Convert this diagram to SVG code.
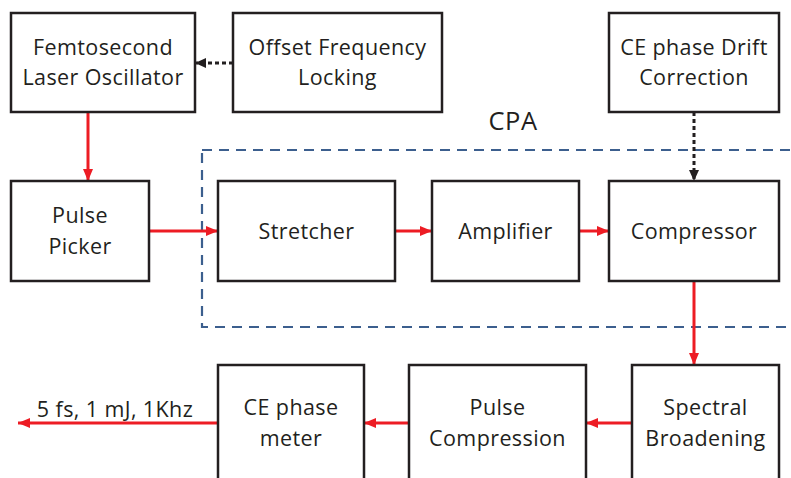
<svg xmlns="http://www.w3.org/2000/svg" width="791" height="478" viewBox="0 0 791 478">
<defs>
<style>
.box{fill:#fff;stroke:#231f20;stroke-width:2.5}
.t{font-family:"Open Sans","Noto Sans",sans-serif;font-size:21.5px;letter-spacing:0.4px;fill:#231f20;text-anchor:middle}
.red{stroke:#ed1c24;stroke-width:3;fill:none}
.dot{stroke:#231f20;stroke-width:3;fill:none;stroke-dasharray:4 3}
</style>
<marker id="ar" viewBox="0 0 12 10" refX="12" refY="5" markerWidth="12" markerHeight="10" markerUnits="userSpaceOnUse" orient="auto"><path d="M0,0L12,5L0,10z" fill="#ed1c24"/></marker>
<marker id="ab" viewBox="0 0 11 10" refX="11" refY="5" markerWidth="11" markerHeight="10" markerUnits="userSpaceOnUse" orient="auto"><path d="M0,0L11,5L0,10z" fill="#231f20"/></marker>
</defs>
<rect width="791" height="478" fill="#fff"/>
<g id="cpa">
<rect x="202" y="150" width="620" height="177" fill="none" stroke="#3c5f8e" stroke-width="2.2" stroke-dasharray="10 7"/>
<text class="t" x="513" y="130" style="font-size:25.5px;letter-spacing:0.5px">CPA</text>
</g>
<g id="connectors">
<line class="red" x1="88" y1="112" x2="88" y2="181" marker-end="url(#ar)"/>
<line class="red" x1="149" y1="231" x2="218" y2="231" marker-end="url(#ar)"/>
<line class="red" x1="395" y1="231" x2="432" y2="231" marker-end="url(#ar)"/>
<line class="red" x1="579" y1="231" x2="609" y2="231" marker-end="url(#ar)"/>
<line class="red" x1="694" y1="281" x2="694" y2="365" marker-end="url(#ar)"/>
<line class="red" x1="632" y1="423" x2="586" y2="423" marker-end="url(#ar)"/>
<line class="red" x1="409" y1="423" x2="364" y2="423" marker-end="url(#ar)"/>
<line class="red" x1="218" y1="423" x2="18" y2="423" marker-end="url(#ar)"/>
<line class="dot" x1="233" y1="63" x2="195" y2="63" marker-end="url(#ab)"/>
<line class="dot" x1="694" y1="112" x2="694" y2="181" marker-end="url(#ab)"/>
<text class="t" x="115" y="417">5 fs, 1 mJ, 1Khz</text>
</g>
<g id="femto"><rect class="box" x="11" y="13" width="184" height="99"/><text class="t" x="103" y="55">Femtosecond</text><text class="t" x="103" y="85">Laser Oscillator</text></g>
<g id="offset"><rect class="box" x="233" y="13" width="209" height="99"/><text class="t" x="337.5" y="55">Offset Frequency</text><text class="t" x="337.5" y="85">Locking</text></g>
<g id="cedrift"><rect class="box" x="609" y="13" width="170" height="99"/><text class="t" x="694" y="55">CE phase Drift</text><text class="t" x="694" y="85">Correction</text></g>
<g id="picker"><rect class="box" x="11" y="181" width="138" height="100"/><text class="t" x="80" y="223">Pulse</text><text class="t" x="80" y="254">Picker</text></g>
<g id="stretcher"><rect class="box" x="218" y="181" width="177" height="100"/><text class="t" x="306.5" y="239">Stretcher</text></g>
<g id="amplifier"><rect class="box" x="432" y="181" width="147" height="100"/><text class="t" x="505.5" y="239">Amplifier</text></g>
<g id="compressor"><rect class="box" x="609" y="181" width="170" height="100"/><text class="t" x="694" y="239">Compressor</text></g>
<g id="spectral"><rect class="box" x="632" y="365" width="147" height="130"/><text class="t" x="705.5" y="415">Spectral</text><text class="t" x="705.5" y="446">Broadening</text></g>
<g id="pulsecomp"><rect class="box" x="409" y="365" width="177" height="130"/><text class="t" x="497.5" y="415">Pulse</text><text class="t" x="497.5" y="446">Compression</text></g>
<g id="cemeter"><rect class="box" x="218" y="365" width="146" height="130"/><text class="t" x="291" y="415">CE phase</text><text class="t" x="291" y="446">meter</text></g>
</svg>
